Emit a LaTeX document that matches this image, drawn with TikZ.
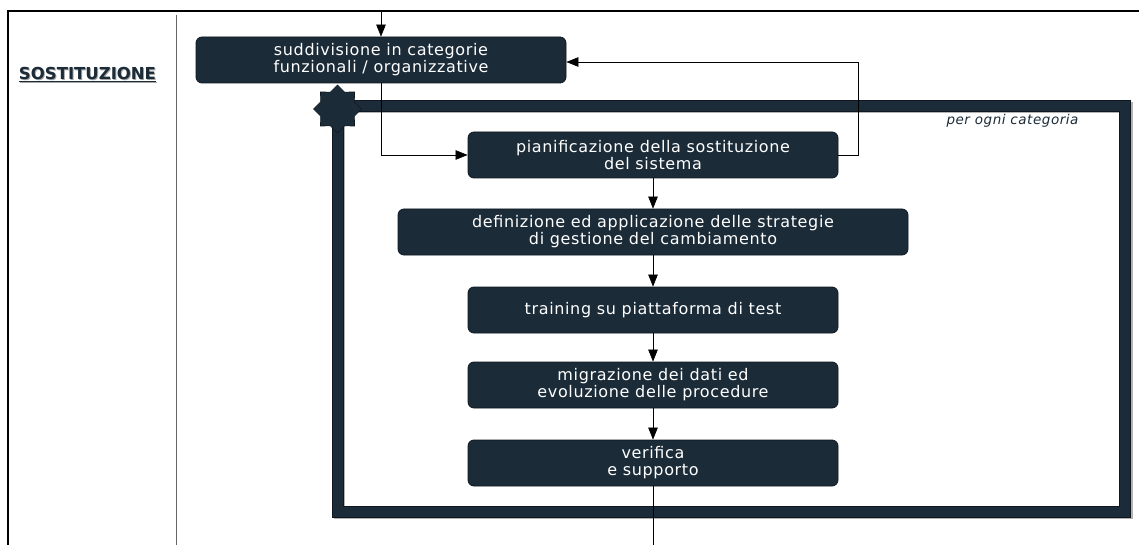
\documentclass[tikz,border=0pt]{standalone}
\usepackage{fontspec}
\setmainfont{DejaVu Sans}
\newfontfamily\boxfont[LetterSpace=4]{DejaVu Sans}
\usetikzlibrary{shapes.geometric,arrows.meta}
\definecolor{navy}{HTML}{1B2B38}
\definecolor{edge}{HTML}{0F1820}
\tikzset{
  stepbox/.style={rectangle, rounded corners=6pt, fill=navy, draw=edge, line width=0.8pt,
    text=white, align=center, font=\boxfont\fontsize{16}{17}\selectfont, inner sep=0pt,
    minimum height=46pt},
  conn/.style={draw=black, line width=0.6pt},
  arr/.style={conn, -{Triangle[length=12pt,width=9.5pt]}},
}
\begin{document}
\begin{tikzpicture}[x=1pt,y=-1pt]
\useasboundingbox (0,0) rectangle (1139,545);
% outer frame lines
\draw[black, line width=1.2pt] (8,545) -- (8,11) -- (1139,11);
\draw[gray!80!black, line width=1pt] (176,15) -- (176,545);
% lane title
\node[font=\bfseries\fontsize{16.5}{18}\selectfont, text=gray!70, anchor=center] at (88.5,75.5) {\underline{SOSTITUZIONE}};
\node[font=\bfseries\fontsize{16.5}{18}\selectfont, text=navy, anchor=center] (lane) at (87.5,74.5) {\underline{SOSTITUZIONE}};
% loop frame (shadow then frame)
\draw[gray!60, line width=11pt] (339.5,107.5) rectangle (1127,513.5);
\draw[navy, line width=11pt] (337.5,105.5) rectangle (1125,511.5);
\draw[edge, line width=0.5pt] (332,100) rectangle (1130.5,517);
\draw[edge, line width=0.5pt] (343,111) rectangle (1119.5,506);
\node[star, star points=8, star point ratio=1.31, minimum size=48pt, fill=navy, draw=edge, line width=0.6pt, inner sep=0pt] (loopstar) at (337.5,109) {};
\node[font=\boxfont\itshape\fontsize{13.5}{15}\selectfont, text=navy, anchor=center] (looplabel) at (1012.5,121) {per ogni categoria};
% boxes
\node[stepbox, minimum width=370pt] (b1) at (381,60) {suddivisione in categorie\\funzionali / organizzative};
\node[stepbox, minimum width=370pt] (b2) at (653,155) {pianificazione della sostituzione\\del sistema};
\node[stepbox, minimum width=510pt] (b3) at (653,232) {definizione ed applicazione delle strategie\\di gestione del cambiamento};
\node[stepbox, minimum width=370pt] (b4) at (653,310) {training su piattaforma di test};
\node[stepbox, minimum width=370pt] (b5) at (653,385) {migrazione dei dati ed\\evoluzione delle procedure};
\node[stepbox, minimum width=370pt] (b6) at (653,463) {verifica\\e supporto};
% connectors
\coordinate (in) at (381,11);
\coordinate (out) at (653,545);
\draw[arr] (in) -- (b1.north);
\draw[arr] (b1.south) |- (b2.west);
\draw[arr] (b2.east) -- ++(20,0) |- ([yshift=-2pt]b1.east);
\draw[arr] (b2.south) -- (b3.north);
\draw[arr] (b3.south) -- (b4.north);
\draw[arr] (b4.south) -- (b5.north);
\draw[arr] (b5.south) -- (b6.north);
\draw[conn] (b6.south) -- (out);
\end{tikzpicture}
\end{document}
